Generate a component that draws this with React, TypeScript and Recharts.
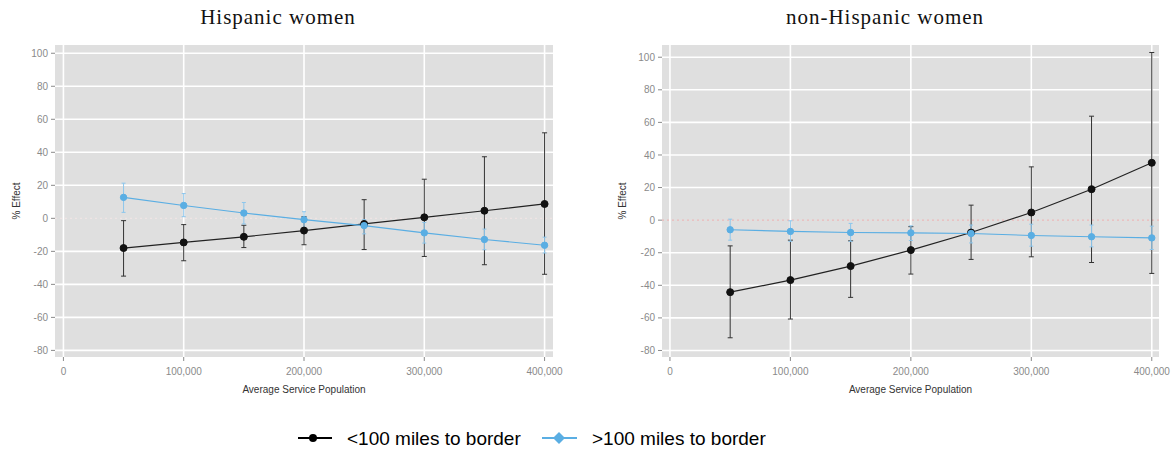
import React from 'react';
import { LineChart, Line, XAxis, YAxis, CartesianGrid, ErrorBar, ReferenceLine } from 'recharts';

const xValues = [50000, 100000, 150000, 200000, 250000, 300000, 350000, 400000];
const xTicks = [0, 100000, 200000, 300000, 400000];
const yTicks = [-80, -60, -40, -20, 0, 20, 40, 60, 80, 100];
const gridY = [-80, -60, -40, -20, 20, 40, 60, 80, 100];

const panelTitles = ['Hispanic women', 'non-Hispanic women'];
const seriesNames = ['<100 miles to border', '>100 miles to border'];

// Hispanic women
const hispNearEst = [-18, -14.6, -11.2, -7.4, -3.4, 0.6, 4.6, 8.7];
const hispNearLo = [-35, -25.7, -17.7, -16, -18.9, -23.1, -28.1, -33.9];
const hispNearHi = [-1.4, -3.8, -4.2, 1, 11.3, 23.7, 37.3, 51.8];
const hispFarEst = [12.7, 7.8, 3.2, -0.8, -4.4, -8.8, -12.8, -16.3];
const hispFarLo = [3.6, 1, -3.4, -5.5, -9.4, -15, -19, -21];
const hispFarHi = [21.3, 15, 9.6, 4, -0.8, -2.5, -6.5, -11.4];

// non-Hispanic women
const nonHispNearEst = [-44.2, -36.8, -28.2, -18.4, -7.6, 4.7, 19, 35.2];
const nonHispNearLo = [-72.2, -60.7, -47.4, -33.1, -24.1, -22.5, -26, -32.7];
const nonHispNearHi = [-15.8, -12.3, -12.7, -4, 9.2, 32.7, 63.8, 102.9];
const nonHispFarEst = [-5.9, -6.9, -7.6, -7.8, -8.2, -9.4, -10.2, -10.9];
const nonHispFarLo = [-12.3, -13, -13, -12.5, -14, -16, -16.4, -18];
const nonHispFarHi = [0.6, -0.4, -2, -3.5, -3, -2.5, -3, -3.7];

const buildRows = (
  nearEst: number[], nearLo: number[], nearHi: number[],
  farEst: number[], farLo: number[], farHi: number[]
) =>
  xValues.map((x, i) => ({
    x,
    near: nearEst[i],
    nearErr: [nearEst[i] - nearLo[i], nearHi[i] - nearEst[i]],
    far: farEst[i],
    farErr: [farEst[i] - farLo[i], farHi[i] - farEst[i]],
  }));

const hispRows = buildRows(hispNearEst, hispNearLo, hispNearHi, hispFarEst, hispFarLo, hispFarHi);
const nonHispRows = buildRows(nonHispNearEst, nonHispNearLo, nonHispNearHi, nonHispFarEst, nonHispFarLo, nonHispFarHi);

const BLACK = '#111';
const BLUE = '#5AAEE3';
const SANS = '"Liberation Sans", Arial, sans-serif';
const SERIF = '"Liberation Serif", "Times New Roman", serif';

type PanelProps = {
  rows: any[];
  width: number;
  height: number;
  margin: any;
  yAxisWidth: number;
  labelOffset: number;
  xDomain: [number, number];
  yDomain: [number, number];
  zeroColor: string;
};

const Panel = ({ rows, width, height, margin, yAxisWidth, labelOffset, xDomain, yDomain, zeroColor }: PanelProps) => (
  <LineChart width={width} height={height} data={rows} margin={margin}>
    <CartesianGrid
      fill="#DFDFDF"
      stroke="#FFFFFF"
      strokeWidth={1.6}
      horizontalValues={gridY}
      verticalValues={xTicks}
    />
    <XAxis
      type="number"
      dataKey="x"
      domain={xDomain}
      ticks={xTicks}
      allowDataOverflow
      axisLine={false}
      tickLine={{ stroke: '#8a8a8a' }}
      tickSize={4}
      tickMargin={7}
      height={36}
      tick={{ fill: '#8a8a8a', fontSize: 10, fontFamily: SANS }}
      tickFormatter={(v: number) => v.toLocaleString('en-US')}
      label={{ value: 'Average Service Population', position: 'insideBottom', offset: 0, fill: '#333', fontSize: 10, fontFamily: SANS }}
    />
    <YAxis
      type="number"
      domain={yDomain}
      ticks={yTicks}
      allowDataOverflow
      width={yAxisWidth}
      axisLine={false}
      tickLine={{ stroke: '#8a8a8a' }}
      tickSize={4}
      tickMargin={3}
      tick={{ fill: '#8a8a8a', fontSize: 10, fontFamily: SANS }}
      label={{
        value: '% Effect',
        angle: -90,
        position: 'insideLeft',
        offset: labelOffset,
        fill: '#333',
        fontSize: 10,
        fontFamily: SANS,
        style: { textAnchor: 'middle' },
      }}
    />
    <ReferenceLine y={0} stroke={zeroColor} strokeWidth={1.2} strokeDasharray="2 3" />
    <Line
      type="linear"
      dataKey="near"
      stroke="#222"
      strokeWidth={1.2}
      dot={{ r: 3.5, fill: BLACK, stroke: BLACK, strokeWidth: 1 }}
      isAnimationActive={false}
    >
      <ErrorBar dataKey="nearErr" direction="y" width={2.5} stroke="#333" strokeWidth={1} />
    </Line>
    <Line
      type="linear"
      dataKey="far"
      stroke={BLUE}
      strokeWidth={1.1}
      dot={{ r: 3.2, fill: BLUE, stroke: BLUE, strokeWidth: 1 }}
      isAnimationActive={false}
    >
      <ErrorBar dataKey="farErr" direction="y" width={2} stroke="#8CC6EC" strokeWidth={1} />
    </Line>
  </LineChart>
);

export default function App() {
  return (
    <div style={{ position: 'absolute', left: 0, top: 0, width: 1176, height: 453, background: '#fff', overflow: 'hidden' }}>
      <div style={{ position: 'absolute', left: 0, top: 0 }}>
        <Panel
          rows={hispRows}
          width={580}
          height={400}
          margin={{ top: 45, right: 27, bottom: 7, left: 0 }}
          yAxisWidth={55}
          labelOffset={16}
          xDomain={[-7000, 407000]}
          yDomain={[-84, 105]}
          zeroColor="#EFE4E4"
        />
      </div>
      <div style={{ position: 'absolute', left: 600, top: 0 }}>
        <Panel
          rows={nonHispRows}
          width={576}
          height={400}
          margin={{ top: 45, right: 17, bottom: 7, left: 0 }}
          yAxisWidth={62}
          labelOffset={22}
          xDomain={[-6600, 406000]}
          yDomain={[-84, 107.5]}
          zeroColor="#EDB9B9"
        />
      </div>
      <svg width={1176} height={453} style={{ position: 'absolute', left: 0, top: 0, pointerEvents: 'none' }}>
        <text x={278} y={23.5} textAnchor="middle" fontFamily={SERIF} fontSize={21} letterSpacing={1} fill="#111">
          {panelTitles[0]}
        </text>
        <text x={885} y={23.5} textAnchor="middle" fontFamily={SERIF} fontSize={21} letterSpacing={1} fill="#111">
          {panelTitles[1]}
        </text>
        <g>
          <line x1={298} y1={438} x2={332} y2={438} stroke="#000" strokeWidth={1.8} />
          <circle cx={313} cy={438} r={4} fill="#000" />
          <text x={347} y={438} dominantBaseline="central" fontFamily={SANS} fontSize={19} fill="#000">
            {seriesNames[0]}
          </text>
          <line x1={542} y1={438} x2={577} y2={438} stroke={BLUE} strokeWidth={1.8} />
          <polygon points="559,432 565,438 559,444 553,438" fill={BLUE} />
          <text x={592} y={438} dominantBaseline="central" fontFamily={SANS} fontSize={19} fill="#000">
            {seriesNames[1]}
          </text>
        </g>
      </svg>
    </div>
  );
}
